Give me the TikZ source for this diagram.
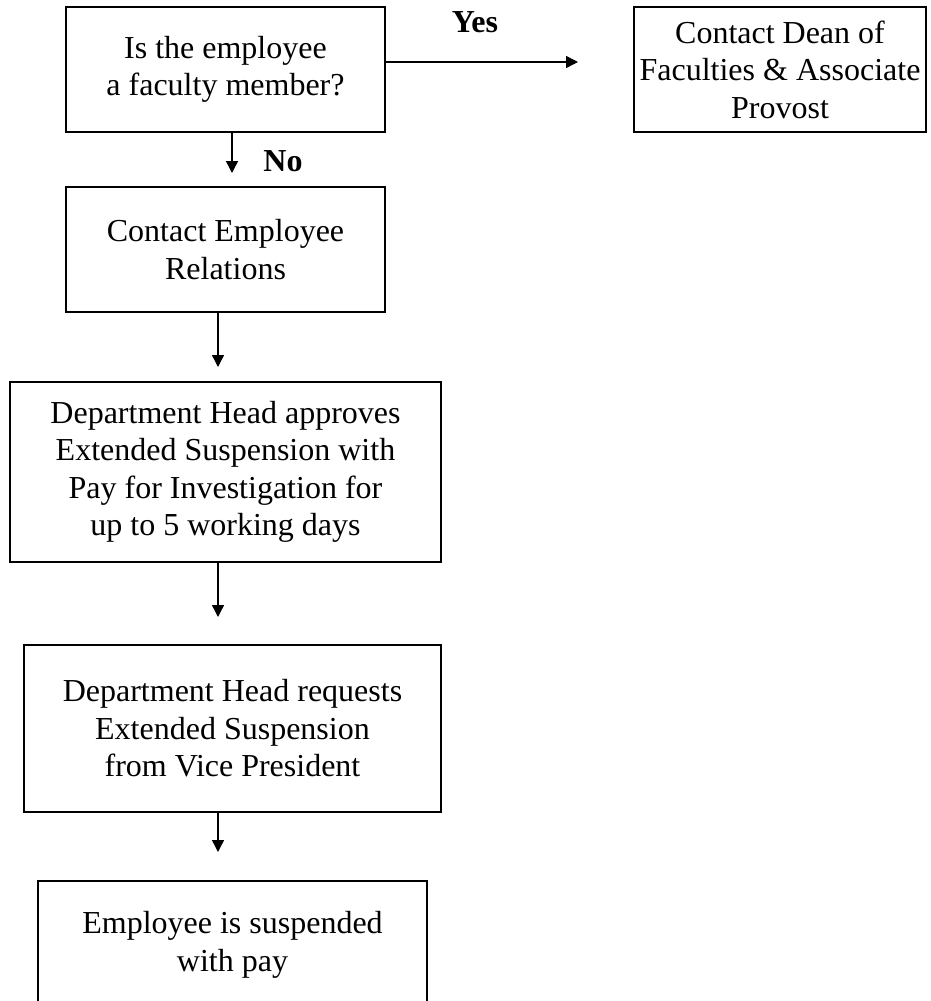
\documentclass[tikz,border=0pt]{standalone}
\usepackage{fontspec}
\setmainfont{Liberation Serif}
\usetikzlibrary{arrows.meta}
\begin{document}
\begin{tikzpicture}[x=1pt,y=-1pt,
  box/.style={draw,line width=1.5pt,rectangle,align=center,inner sep=0pt,
    font=\fontsize{32}{37.5}\selectfont},
  lbl/.style={font=\fontsize{32}{37.5}\selectfont\bfseries,inner sep=0pt},
  arr/.style={line width=1.4pt,-{Triangle[width=12pt,length=12pt]}}]
\clip (0,0) rectangle (930,1001);
\fill[white] (0,0) rectangle (930,1001);
\node[box,minimum width=319pt,minimum height=125pt] (b1) at (225.5,69.5) {Is the employee\\a faculty member?};
\node[box,minimum width=292pt,minimum height=125pt] (by) at (780,69.5) {Contact Dean of\\Faculties \& Associate\\Provost};
\node[box,minimum width=319pt,minimum height=125pt] (b2) at (225.5,249.5) {Contact Employee\\Relations};
\node[box,minimum width=431pt,minimum height=180pt] (b3) at (225.5,472) {Department Head approves\\Extended Suspension with\\Pay for Investigation for\\up to 5 working days};
\node[box,minimum width=417pt,minimum height=167pt] (b4) at (232.5,728.5) {Department Head requests\\ Extended Suspension\\from Vice President};
\node[box,minimum width=389pt,minimum height=128pt] (b5) at (232.5,945) {Employee is suspended\\with pay};
\coordinate (ey) at (578,62);
\coordinate (e1) at (232,173);
\coordinate (e2) at (218,367);
\coordinate (e3) at (218,617);
\coordinate (e4) at (218,852);
\draw[arr] (b1.east |- ey) -- (ey);
\draw[arr] (b1.south -| e1) -- (e1);
\draw[arr] (b2.south -| e2) -- (e2);
\draw[arr] (b3.south -| e3) -- (e3);
\draw[arr] (b4.south -| e4) -- (e4);
\node[lbl] (yes) at (475,22) {Yes};
\node[lbl] (no) at (283,161) {No};
\end{tikzpicture}
\end{document}
